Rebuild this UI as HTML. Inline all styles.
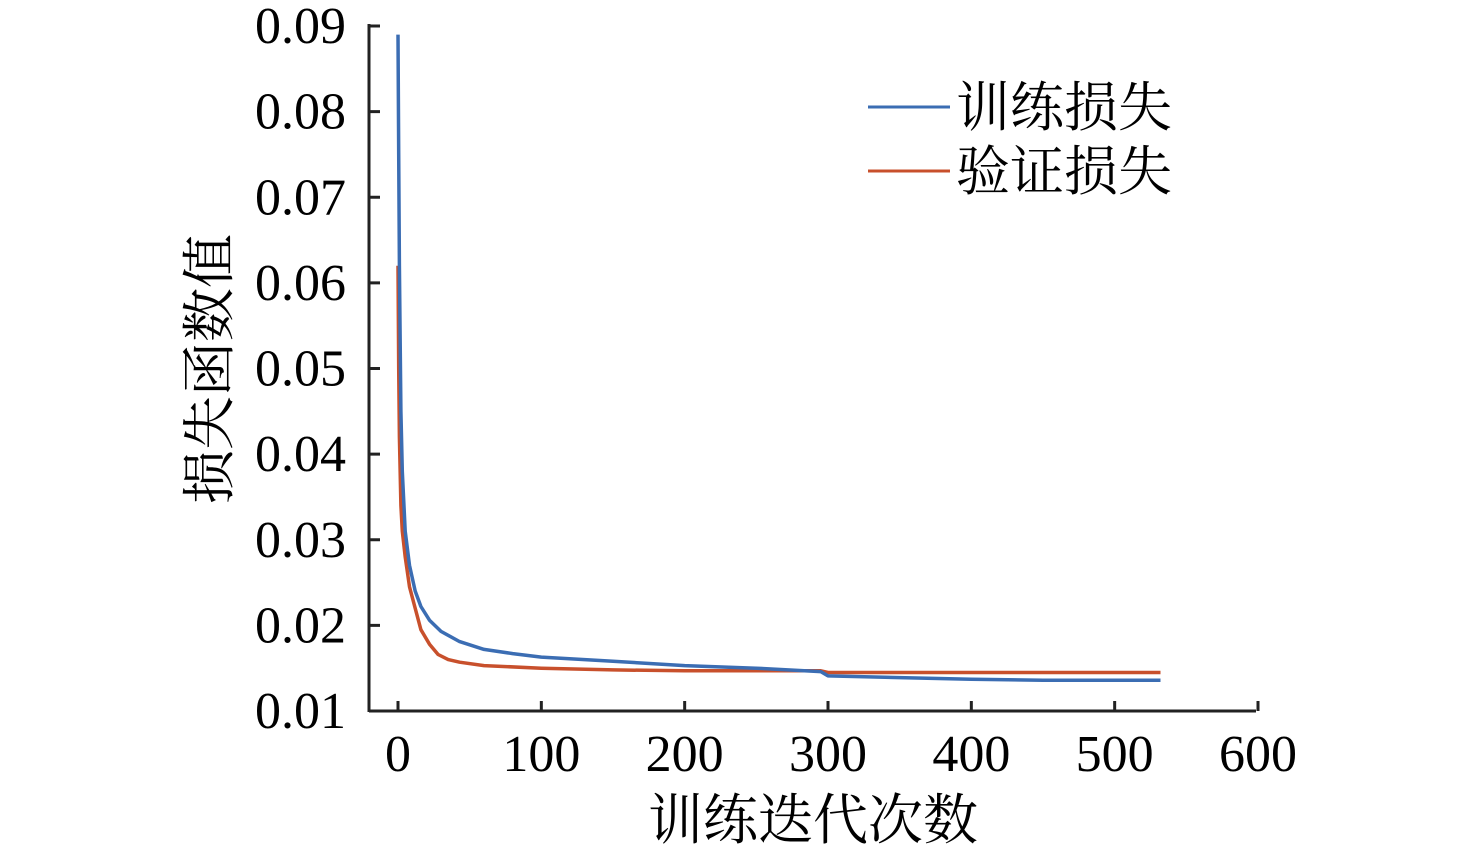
<!DOCTYPE html>
<html><head><meta charset="utf-8"><style>
html,body{margin:0;padding:0;background:#fff;}
svg{display:block;font-family:"Liberation Serif","Noto Serif CJK SC",serif;}
</style></head><body>
<svg id="chart" width="1476" height="856" viewBox="0 0 1476 856">
<g id="axes"></g><g id="series"></g>
<g>
<line x1="868" y1="107" x2="950" y2="107" stroke="#3b6db3" stroke-width="3"/>
<text x="956" y="126" font-size="54" font-family="Noto Serif CJK SC, serif">训练损失</text>
<line x1="868" y1="171" x2="950" y2="171" stroke="#c8502c" stroke-width="3"/>
<text x="956" y="190" font-size="54" font-family="Noto Serif CJK SC, serif">验证损失</text>
</g>
<text x="813" y="839" font-size="55" text-anchor="middle" font-family="Noto Serif CJK SC, serif">训练迭代次数</text>
<text transform="translate(228,369) rotate(-90)" font-size="54" text-anchor="middle" font-family="Noto Serif CJK SC, serif">损失函数值</text>
</svg>
<script>
const xTicks=[0,100,200,300,400,500,600];
const yTicks=[0.01,0.02,0.03,0.04,0.05,0.06,0.07,0.08,0.09];
const trainIter=[0,0.5,1,2,3,5,8,12,16,22,30,43,60,80,100,150,200,250,295,300,350,400,450,532];
const trainLoss=[0.089,0.075,0.062,0.045,0.038,0.031,0.027,0.024,0.0222,0.0206,0.0193,0.0181,0.0172,0.0167,0.0163,0.0158,0.0153,0.0150,0.0146,0.0141,0.0139,0.0137,0.0136,0.0136];
const valIter=[0,0.5,1,2,3,5,8,12,16,22,28,35,43,60,100,150,200,250,295,300,400,532];
const valLoss=[0.062,0.050,0.042,0.034,0.031,0.028,0.0245,0.022,0.0195,0.0178,0.0166,0.0160,0.0157,0.0153,0.0150,0.0148,0.0147,0.0147,0.0147,0.0145,0.0145,0.0145];
const NS='http://www.w3.org/2000/svg';
const X=v=>398+v*(1258-398)/600;
const Y=v=>711-(v-0.01)*(711-26)/0.08;
const ax=document.getElementById('axes'),se=document.getElementById('series');
function mk(tag,attrs,parent){const e=document.createElementNS(NS,tag);for(const k in attrs)e.setAttribute(k,attrs[k]);parent.appendChild(e);return e;}
let l=mk('line',{x1:369,y1:711,x2:1256,y2:711,stroke:'#222','stroke-width':3},ax);


l=mk('line',{x1:369,y1:24,x2:369,y2:712,stroke:'#222','stroke-width':3},ax);


xTicks.forEach(t=>{
 const tk=mk('line',{x1:X(t),y1:711,x2:X(t),y2:701,stroke:'#222','stroke-width':3},ax);
 
 
 const tx=mk('text',{x:X(t),y:771,'font-size':52,'text-anchor':'middle'},ax);
 tx.textContent=t;
 
 
});
yTicks.forEach(t=>{
 const tk=mk('line',{x1:369,y1:Y(t),x2:380,y2:Y(t),stroke:'#222','stroke-width':3},ax);
 
 
 const tx=mk('text',{x:346,y:Y(t)+17,'font-size':52,'text-anchor':'end'},ax);
 tx.textContent=t.toFixed(2);
 
 
});
function path(xs,ys,color,name){
 const d=xs.map((x,i)=>(i?'L':'M')+X(x).toFixed(1)+','+Y(ys[i]).toFixed(1)).join('');
 const p=mk('path',{d:d,fill:'none',stroke:color,'stroke-width':3.5,'stroke-linejoin':'round'},se);
 
 
}
path(valIter,valLoss,'#c8502c','validation-loss-line');
path(trainIter,trainLoss,'#3b6db3','training-loss-line');
</script>
</body></html>
